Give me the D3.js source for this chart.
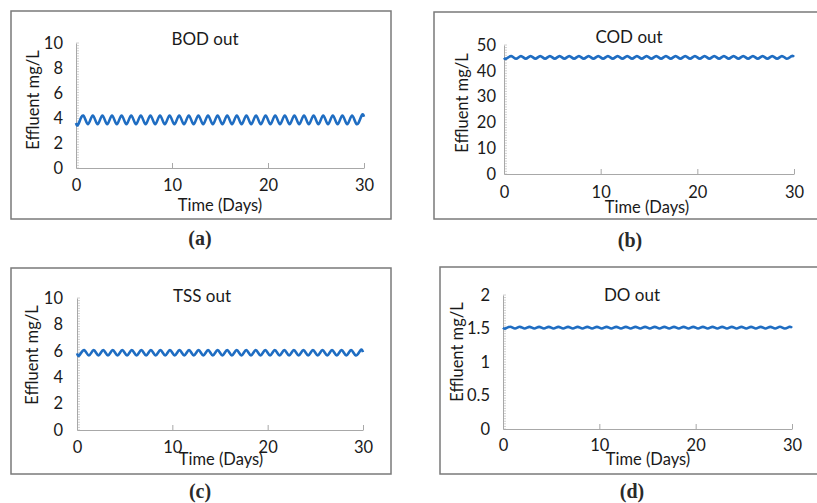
<!DOCTYPE html>
<html>
<head>
<meta charset="utf-8">
<script src="https://cdn.jsdelivr.net/npm/d3@7"></script>
<style>
  html, body { margin: 0; padding: 0; background: #fff; }
  svg { display: block; }
</style>
</head>
<body>
<script>
// ---------------- DATA ----------------
const days = [0,0.25,0.75,1.25,1.75,2.25,2.75,3.25,3.75,4.25,4.75,5.25,5.75,6.25,6.75,7.25,7.75,8.25,8.75,9.25,9.75,
  10.25,10.75,11.25,11.75,12.25,12.75,13.25,13.75,14.25,14.75,15.25,15.75,16.25,16.75,17.25,17.75,18.25,18.75,19.25,19.75,
  20.25,20.75,21.25,21.75,22.25,22.75,23.25,23.75,24.25,24.75,25.25,25.75,26.25,26.75,27.25,27.75,28.25,28.75,29.25,29.75,30];

const bodOut = [3.6,
  3.5,4.2,3.5,4.2,3.5,4.2,3.5,4.2,3.5,4.2,3.5,4.2,3.5,4.2,3.5,4.2,3.5,4.2,3.5,4.2,
  3.5,4.2,3.5,4.2,3.5,4.2,3.5,4.2,3.5,4.2,3.5,4.2,3.5,4.2,3.5,4.2,3.5,4.2,3.5,4.2,
  3.5,4.2,3.5,4.2,3.5,4.2,3.5,4.2,3.5,4.2,3.5,4.2,3.5,4.2,3.5,4.2,3.5,4.2,3.5,4.2,
  4.1];
const codOut = [45.0,
  44.7,45.7,44.7,45.7,44.7,45.7,44.7,45.7,44.7,45.7,44.7,45.7,44.7,45.7,44.7,45.7,44.7,45.7,44.7,45.7,
  44.7,45.7,44.7,45.7,44.7,45.7,44.7,45.7,44.7,45.7,44.7,45.7,44.7,45.7,44.7,45.7,44.7,45.7,44.7,45.7,
  44.7,45.7,44.7,45.7,44.7,45.7,44.7,45.7,44.7,45.7,44.7,45.7,44.7,45.7,44.7,45.7,44.7,45.7,44.7,45.7,
  45.4];
const tssOut = [5.8,
  5.65,6.05,5.65,6.05,5.65,6.05,5.65,6.05,5.65,6.05,5.65,6.05,5.65,6.05,5.65,6.05,5.65,6.05,5.65,6.05,
  5.65,6.05,5.65,6.05,5.65,6.05,5.65,6.05,5.65,6.05,5.65,6.05,5.65,6.05,5.65,6.05,5.65,6.05,5.65,6.05,
  5.65,6.05,5.65,6.05,5.65,6.05,5.65,6.05,5.65,6.05,5.65,6.05,5.65,6.05,5.65,6.05,5.65,6.05,5.65,6.05,
  5.9];
const doOut = [1.51,
  1.5,1.525,1.5,1.525,1.5,1.525,1.5,1.525,1.5,1.525,1.5,1.525,1.5,1.525,1.5,1.525,1.5,1.525,1.5,1.525,
  1.5,1.525,1.5,1.525,1.5,1.525,1.5,1.525,1.5,1.525,1.5,1.525,1.5,1.525,1.5,1.525,1.5,1.525,1.5,1.525,
  1.5,1.525,1.5,1.525,1.5,1.525,1.5,1.525,1.5,1.525,1.5,1.525,1.5,1.525,1.5,1.525,1.5,1.525,1.5,1.525,
  1.51];

const dayTicks = [0, 10, 20, 30];
const bodTicks = [0, 2, 4, 6, 8, 10];
const codTicks = [0, 10, 20, 30, 40, 50];
const tssTicks = [0, 2, 4, 6, 8, 10];
const doTicks = [0, 0.5, 1, 1.5, 2];

const titles = ["BOD out", "COD out", "TSS out", "DO out"];
const panelLabels = ["(a)", "(b)", "(c)", "(d)"];
const xTitle = "Time (Days)";
const yTitle = "Effluent mg/L";

// ---------------- LAYOUT ----------------
const W = 817, H = 503;
const FONT = "Lato, 'Open Sans', sans-serif";
const panels = [
  { vals: bodOut, ticks: bodTicks, title: titles[0], label: panelLabels[0],
    box: [11, 11, 391, 219], x0: 76, x1: 364, y0: 168, y1: 43, tickGap: 13,
    titleXY: [205, 38], labelXY: [200, 238], ytXY: [33, 100], xtXY: [220, 205], xlOff: 17 },
  { vals: codOut, ticks: codTicks, title: titles[1], label: panelLabels[1],
    box: [434, 12, 830, 219], x0: 504, x1: 794, y0: 174, y1: 45, tickGap: 8,
    titleXY: [629, 36], labelXY: [630, 240], ytXY: [462, 103], xtXY: [647, 207], xlOff: 18 },
  { vals: tssOut, ticks: tssTicks, title: titles[2], label: panelLabels[2],
    box: [11, 268, 391, 474], x0: 77, x1: 363, y0: 430, y1: 298, tickGap: 14,
    titleXY: [202, 295], labelXY: [200, 491], ytXY: [32, 355], xtXY: [221, 459], xlOff: 17 },
  { vals: doOut, ticks: doTicks, title: titles[3], label: panelLabels[3],
    box: [440, 267, 830, 474], x0: 503, x1: 792, y0: 429, y1: 295, tickGap: 13,
    titleXY: [632, 294], labelXY: [632, 491], ytXY: [457, 352], xtXY: [648, 459], xlOff: 16 }
];

const svg = d3.select("body").append("svg").attr("width", W).attr("height", H)
  .style("background", "#fff");

panels.forEach(p => {
  const g = svg.append("g");
  const [bx0, by0, bx1, by1] = p.box;
  g.append("rect").attr("x", bx0).attr("y", by0).attr("width", bx1 - bx0).attr("height", by1 - by0)
    .attr("fill", "#fff").attr("stroke", "#7a7a7a").attr("stroke-width", 1.5);

  const x = d3.scaleLinear().domain([0, 30]).range([p.x0, p.x1]);
  const yMax = p.ticks[p.ticks.length - 1];
  const y = d3.scaleLinear().domain([0, yMax]).range([p.y0, p.y1]);

  // minor ticks on y axis
  const nMinor = Math.round((p.y0 - p.y1) / 2.6);
  const minor = d3.range(nMinor + 1).map(i => yMax * i / nMinor);
  g.append("g").selectAll("line").data(minor).join("line")
    .attr("x1", p.x0).attr("x2", p.x0 + 3)
    .attr("y1", d => y(d)).attr("y2", d => y(d))
    .attr("stroke", "#c4c4c4").attr("stroke-width", 0.8);

  // y axis
  const yAxis = d3.axisLeft(y).tickValues(p.ticks).tickFormat(d => String(d))
    .tickSize(0).tickPadding(p.tickGap);
  const ya = g.append("g").attr("transform", `translate(${p.x0},0)`).call(yAxis);
  ya.select(".domain").attr("stroke", "#a8a8a8").attr("stroke-width", 1);
  ya.selectAll("text").attr("font-family", FONT).attr("font-size", 16.5).attr("fill", "#1a1a1a");

  // x axis
  const xAxis = d3.axisBottom(x).tickValues(dayTicks).tickSizeInner(-5).tickSizeOuter(0)
    .tickPadding(p.xlOff - 10);
  const xa = g.append("g").attr("transform", `translate(0,${p.y0})`).call(xAxis);
  xa.select(".domain").attr("stroke", "#a8a8a8").attr("stroke-width", 1);
  xa.selectAll(".tick line").attr("stroke", "#a8a8a8");
  xa.selectAll("text").attr("font-family", FONT).attr("font-size", 16.5).attr("fill", "#1a1a1a")
    .attr("dy", "0.71em").attr("y", p.xlOff - 6);

  // data line
  const line = d3.line().x((d, i) => x(days[i])).y(d => y(d)).curve(d3.curveNatural);
  g.append("path").datum(p.vals).attr("d", line)
    .attr("fill", "none").attr("stroke", "#1f6dc2").attr("stroke-width", 2.6)
    .attr("stroke-linejoin", "round");

  // titles
  g.append("text").attr("x", p.titleXY[0]).attr("y", p.titleXY[1]).attr("text-anchor", "middle")
    .attr("dominant-baseline", "central").attr("font-family", FONT).attr("font-size", 17)
    .attr("fill", "#1a1a1a").text(p.title);
  g.append("text").attr("x", p.xtXY[0]).attr("y", p.xtXY[1]).attr("text-anchor", "middle")
    .attr("dominant-baseline", "central").attr("font-family", FONT).attr("font-size", 16.5)
    .attr("fill", "#1a1a1a").text(xTitle);
  g.append("text").attr("transform", `translate(${p.ytXY[0]},${p.ytXY[1]}) rotate(-90)`)
    .attr("text-anchor", "middle").attr("dominant-baseline", "central")
    .attr("font-family", FONT).attr("font-size", 16.5).attr("fill", "#1a1a1a").text(yTitle);

  svg.append("text").attr("x", p.labelXY[0]).attr("y", p.labelXY[1]).attr("text-anchor", "middle")
    .attr("dominant-baseline", "central").attr("font-family", "'Liberation Serif', 'DejaVu Serif', serif")
    .attr("font-weight", "bold").attr("font-size", 20).attr("fill", "#2a2a2a").text(p.label);
});
</script>
</body>
</html>
